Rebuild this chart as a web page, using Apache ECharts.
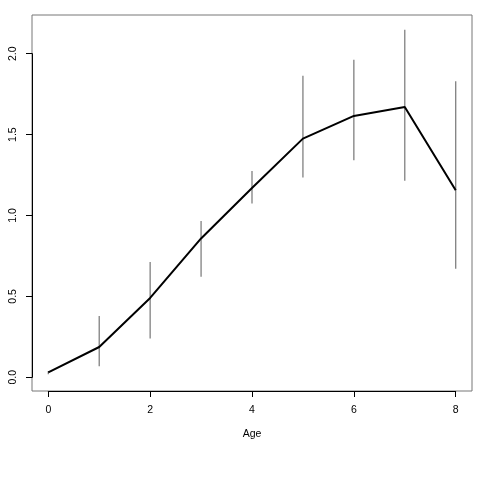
<!DOCTYPE html>
<html>
<head>
<meta charset="utf-8">
<script src="https://cdn.jsdelivr.net/npm/echarts@6/dist/echarts.min.js"></script>
<style>html,body{margin:0;padding:0;background:#fff;}#c{width:480px;height:480px;}</style>
</head>
<body>
<div id="c"></div>
<script>
const ages = [0, 1, 2, 3, 4, 5, 6, 7, 8];
const means = [0.03, 0.187, 0.49, 0.858, 1.17, 1.475, 1.615, 1.67, 1.156];
const lower = [0.018, 0.068, 0.24, 0.621, 1.074, 1.235, 1.341, 1.214, 0.670];
const upper = [0.038, 0.378, 0.713, 0.965, 1.275, 1.864, 1.963, 2.148, 1.829];
const xTicks = [0, 2, 4, 6, 8];
const yTicks = [0, 0.5, 1, 1.5, 2];
const xLabel = 'Age';

const chart = echarts.init(document.getElementById('c'), null, {renderer: 'canvas'});
const font = 'Liberation Sans, Arial, sans-serif';
const lineData = ages.map((a, i) => [a, means[i]]);
const barData = ages.map((a, i) => [a, lower[i], upper[i]]);

chart.setOption({
  animation: false,
  backgroundColor: '#fff',
  grid: [
    {left: 32, top: 15, width: 440, height: 376, show: true, borderColor: '#777', borderWidth: 1, backgroundColor: 'transparent'},
    {left: 48.3, top: 53.7, width: 407.4, height: 323.6, show: false}
  ],
  xAxis: [
    {type: 'value', gridIndex: 0, min: -0.32, max: 8.32, show: false},
    {type: 'value', gridIndex: 1, min: xTicks[0], max: xTicks[xTicks.length - 1], interval: 2, offset: 13.7,
     position: 'bottom',
     axisLine: {show: true, onZero: false, lineStyle: {color: '#000', width: 1}},
     axisTick: {show: true, length: 6, lineStyle: {color: '#000'}},
     axisLabel: {show: true, margin: 13.5, fontFamily: font, fontSize: 10.5, color: '#000'},
     splitLine: {show: false},
     name: xLabel, nameLocation: 'middle', nameGap: 38,
     nameTextStyle: {fontFamily: font, fontSize: 10.5, color: '#000'}}
  ],
  yAxis: [
    {type: 'value', gridIndex: 0, min: -0.085, max: 2.239, show: false},
    {type: 'value', gridIndex: 1, min: yTicks[0], max: yTicks[yTicks.length - 1], interval: 0.5, offset: 16.3,
     position: 'left',
     axisLine: {show: true, onZero: false, lineStyle: {color: '#000', width: 1}},
     axisTick: {show: true, length: 6, lineStyle: {color: '#000'}},
     axisLabel: {show: true, rotate: 90, margin: 13, fontFamily: font, fontSize: 10.5, color: '#000',
       formatter: v => v.toFixed(1)},
     splitLine: {show: false}}
  ],
  series: [
    {
      type: 'custom', xAxisIndex: 0, yAxisIndex: 0, data: barData,
      renderItem: function (params, api) {
        const p1 = api.coord([api.value(0), api.value(1)]);
        const p2 = api.coord([api.value(0), api.value(2)]);
        return {type: 'line', shape: {x1: p1[0], y1: p1[1], x2: p2[0], y2: p2[1]},
                style: {stroke: '#808080', lineWidth: 1.3}};
      },
      silent: true, z: 1
    },
    {
      type: 'line', xAxisIndex: 0, yAxisIndex: 0, data: lineData,
      showSymbol: false, symbol: 'none',
      lineStyle: {color: '#000', width: 2}, silent: true, z: 2
    }
  ]
});
</script>
</body>
</html>
